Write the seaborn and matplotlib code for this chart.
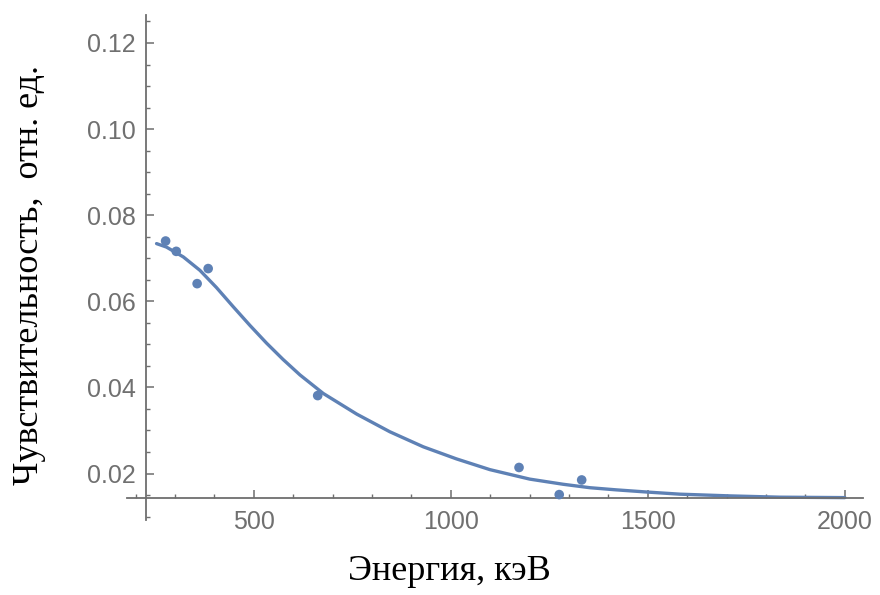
import numpy as np
import pandas as pd
import seaborn as sns
import matplotlib.pyplot as plt
from matplotlib.ticker import MultipleLocator

# measured points (energy in keV, sensitivity in rel. units)
energy = [276, 303, 356, 384, 662, 1173, 1275, 1332]
sensitivity = [0.0740, 0.0716, 0.0641, 0.0676, 0.0381, 0.0214, 0.0151, 0.0185]

# fitted curve
fit_energy = [253, 278, 321, 363, 405, 447, 490, 532, 574, 617, 676, 761,
              845, 930, 1014, 1099, 1200, 1285, 1353, 1420, 1497, 1581,
              1708, 1835, 2000]
fit_sens = [0.0734, 0.0726, 0.0703, 0.0672, 0.0632, 0.0588, 0.0544, 0.0503,
            0.0465, 0.0429, 0.0386, 0.0338, 0.0297, 0.0262, 0.0234, 0.0209,
            0.0187, 0.0175, 0.0167, 0.0162, 0.0157, 0.0152, 0.0148, 0.0145,
            0.0144]

x_major = [500, 1000, 1500, 2000]
y_major = [0.02, 0.04, 0.06, 0.08, 0.10, 0.12]

pts = pd.DataFrame({"E": energy, "S": sensitivity})
fit = pd.DataFrame({"E": fit_energy, "S": fit_sens})

sns.set_style("white")
plt.rcParams["font.family"] = ["Liberation Sans", "DejaVu Sans"]

blue = "#5E81B5"
gray = "#6e6e6e"

fig = plt.figure(figsize=(8.8, 5.95), dpi=100)
ax = fig.add_axes([127 / 880, 1 - 520 / 595, (863 - 127) / 880, (520 - 15) / 595])

sns.lineplot(data=fit, x="E", y="S", color=blue, linewidth=2.4, ax=ax,
             solid_joinstyle="round", solid_capstyle="round")
sns.scatterplot(data=pts, x="E", y="S", color=blue, s=48, edgecolor="none", ax=ax, zorder=3)

ax.set_xlim(178, 2046)
ax.set_ylim(0.0092, 0.1265)

# mathematica-like crossing axes
ax.spines["top"].set_visible(False)
ax.spines["right"].set_visible(False)
ax.spines["left"].set_position(("data", 225))
ax.spines["bottom"].set_position(("data", 0.0144))
for s in ["left", "bottom"]:
    ax.spines[s].set_color(gray)
    ax.spines[s].set_linewidth(1.3)

ax.set_xticks(x_major)
ax.set_yticks(y_major)
ax.set_yticklabels([f"{v:.2f}" for v in y_major])
ax.xaxis.set_minor_locator(MultipleLocator(100))
ax.yaxis.set_minor_locator(MultipleLocator(0.005))
ax.tick_params(which="both", bottom=True, left=True, top=False, right=False)
ax.tick_params(which="major", direction="in", length=5.5, width=1.1, color=gray,
               labelcolor="#707070", labelsize=18)
ax.tick_params(which="minor", direction="in", length=2.8, width=1.0, color=gray)
ax.tick_params(axis="y", which="major", pad=7)
ax.tick_params(axis="x", which="major", pad=9)

ax.set_xlabel("")
ax.set_ylabel("")
fig.text(449 / 880, 1 - 572 / 595, "Энергия, кэВ", ha="center", va="center",
         fontsize=26, family="Liberation Serif", color="black")
fig.text(30 / 880, 1 - 275 / 595, "Чувствительность,  отн. ед.", ha="center", va="center",
         rotation=90, fontsize=26, family="Liberation Serif", color="black")

fig.savefig("out.png", dpi=100)
